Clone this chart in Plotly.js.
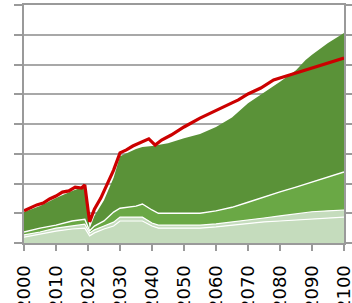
<!DOCTYPE html>
<html><head><meta charset="utf-8">
<script src="https://cdn.plot.ly/plotly-3.0.1.min.js"></script>
<style>html,body{margin:0;padding:0;background:#fff;overflow:hidden}</style>
</head><body><div id="chart" style="width:352px;height:303px"></div>
<script>
// Years used by the stacked areas
const areaYears = [2000,2005,2010,2015,2019,2020.5,2022,2025,2028,2030,2035,2037,2040,2042,2045,2050,2055,2060,2065,2070,2075,2080,2085,2088,2090,2095,2100];
// Layer thicknesses (stacked from the bottom)
const baseLayer  = [2.0,3.0,4.0,4.7,5.0,2.4,3.4,4.7,5.7,7.4,7.4,7.4,5.7,5.0,5.0,5.0,5.0,5.4,6.0,6.7,7.1,7.4,7.7,8.1,8.1,8.4,8.7];
const stripLayer = [0.7,0.7,1.0,1.0,1.3,1.0,1.0,1.0,1.3,1.3,1.3,1.3,1.0,1.0,1.0,1.0,1.0,1.0,1.0,1.0,1.3,1.7,2.0,2.0,2.4,2.4,2.4];
const midLayer   = [1.0,1.3,1.0,1.7,1.7,0.7,1.3,1.7,3.4,3.0,3.7,4.4,4.4,4.0,4.0,4.0,4.0,4.4,5.0,6.0,7.1,8.1,9.1,9.7,10.1,11.4,12.8];
const topLayer   = [6.7,7.4,9.1,10.1,11.1,0.7,3.4,7.0,11.5,17.5,19.2,19.2,21.5,22.9,23.5,25.2,26.6,28.2,30.2,33.3,35.0,37.0,39.3,41.7,42.7,45.0,46.7];
// Red line series
const lineYears  = [2000,2002,2004,2006,2008,2010,2012,2014,2016,2018,2019,2020.5,2022,2024,2026,2028,2030,2032,2034,2036,2038,2039,2041,2043,2046,2050,2055,2060,2065,2067,2070,2074,2078,2083,2088,2092,2095,2100];
const lineValues = [10.8,11.8,12.8,13.4,14.8,15.8,17.1,17.5,18.8,18.5,19.5,7.1,11.4,15.1,19.5,24.5,30.3,31.3,32.6,33.6,34.6,35.0,32.9,34.6,36.3,39.0,42.0,44.7,47.1,48.1,50.1,52.1,54.8,56.5,58.1,59.5,60.5,62.2];
// Axis ticks
const tickYears  = [2000,2010,2020,2030,2040,2050,2060,2070,2080,2090,2100];
const tickLabels = ['2000','2010','2020','2030','2040','2050','2060','2070','2080','2090','2100'];

function area(vals, fill, lineColor, lw) {
  return {x: areaYears, y: vals, type:'scatter', mode:'lines', stackgroup:'s',
    fillcolor: fill, line:{color: lineColor, width: lw, shape:'linear'}, hoverinfo:'skip'};
}
const data = [
  area(baseLayer,  '#c5dcbd', '#ffffff', 1.2),
  area(stripLayer, '#c5dcbd', '#ffffff', 1.2),
  area(midLayer,   '#6aa845', '#ffffff', 1.4),
  area(topLayer,   '#5a9238', '#5a9238', 0),
  {x: lineYears, y: lineValues, type:'scatter', mode:'lines',
   line:{color:'#cc0000', width:3.2}, hoverinfo:'skip'}
];
const layout = {
  width:352, height:303,
  margin:{l:24, r:8, t:5, b:60, pad:0},
  paper_bgcolor:'#ffffff', plot_bgcolor:'#ffffff',
  showlegend:false,
  xaxis:{range:[2000,2100], tickmode:'array', tickvals:tickYears, ticktext:tickLabels,
    tickangle:-90, ticks:'outside', ticklen:6, tickwidth:2, tickcolor:'#9a9a9a',
    ticklabelstandoff:7, ticklabeloverflow:'allow',
    showgrid:false, showline:true, mirror:true, linecolor:'#9a9a9a', linewidth:2, zeroline:false,
    tickfont:{family:'DejaVu Sans', size:18, color:'#000'}},
  yaxis:{range:[0,80], tickmode:'linear', tick0:0, dtick:10, showticklabels:false,
    ticks:'outside', ticklen:8, tickwidth:2, tickcolor:'#9a9a9a',
    showgrid:true, gridcolor:'#a8a8a8', gridwidth:2,
    showline:true, linecolor:'#9a9a9a', linewidth:2, mirror:'ticks', zeroline:false}
};
Plotly.newPlot('chart', data, layout, {staticPlot:true, displayModeBar:false});
</script>
</body></html>
